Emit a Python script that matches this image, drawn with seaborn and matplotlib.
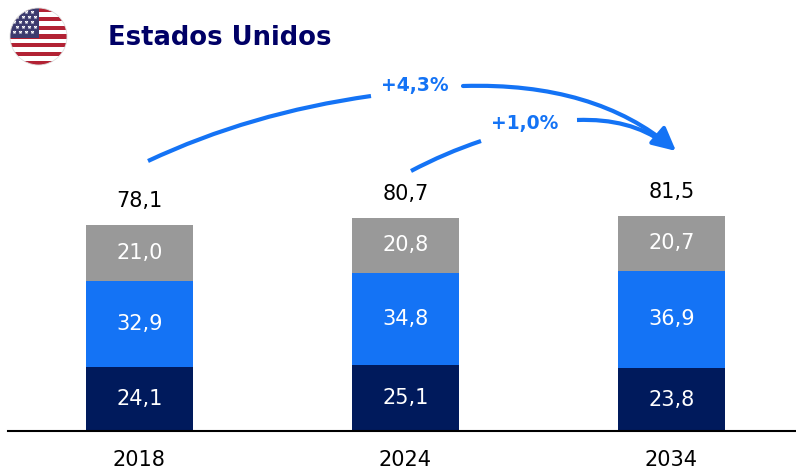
import matplotlib
matplotlib.use("Agg")
import matplotlib.pyplot as plt
from matplotlib.patches import Circle, Rectangle, FancyArrowPatch, PathPatch
from matplotlib.path import Path
import seaborn as sns

#Data
years = ['2018', '2024', '2034']
bottom_vals = [24.1, 25.1, 23.8]
middle_vals = [32.9, 34.8, 36.9]
top_vals = [21.0, 20.8, 20.7]
totals = [78.1, 80.7, 81.5]
navy = '#001A5C'
blue = '#1473F5'
grey = '#999999'

sns.set_theme(style='white')
plt.rcParams['font.family'] = ['DejaVu Sans']

fig = plt.figure(figsize=(7.96, 4.70), dpi=100)
ax = fig.add_axes([8 / 796, (470 - 431) / 470, 788 / 796, 431 / 470])

#Stack the three segments
base = [0, 0, 0]
for vals, col in [(bottom_vals, navy), (middle_vals, blue), (top_vals, grey)]:
    sns.barplot(x=years, y=vals, bottom=base, color=col, saturation=1, width=0.402, ax=ax, errorbar=None, linewidth=0)
    for i, v in enumerate(vals):
        ax.text(i, base[i] + v / 2, f'{v:.1f}'.replace('.', ','), color='white', fontsize=15, ha='center', va='center')
    base = [b + v for b, v in zip(base, vals)]

for i, t in enumerate(totals):
    ax.annotate(f'{t:.1f}'.replace('.', ','), (i, t), xytext=(0, 10), textcoords='offset points',
                color='black', fontsize=15, ha='center', va='bottom')

ax.set_xlim(-0.494, 2.468)
ax.set_ylim(0, 163.3)
ax.set_yticks([])
ax.set_ylabel('')
sns.despine(ax=ax, left=True)
ax.spines['bottom'].set_color('black')
ax.spines['bottom'].set_linewidth(1.5)
ax.tick_params(axis='x', length=0, pad=13.5, labelsize=15, labelcolor='black')

#Overlay in pixel coordinates for the title, flag and arrows
ov = fig.add_axes([0, 0, 1, 1])
ov.set_xlim(0, 796)
ov.set_ylim(470, 0)
ov.axis('off')
ov.patch.set_alpha(0)

ov.text(108, 38, 'Estados Unidos', color='#000066', fontsize=18.6, fontweight='bold', ha='left', va='center')

#Flag
clip = Circle((38.5, 36.5), 28.5, transform=ov.transData, facecolor='none', edgecolor='none')
ov.add_patch(clip)
for s in range(13):
    r = Rectangle((10, 8 + s * 57 / 13), 57, 57 / 13, facecolor='#B22234' if s % 2 == 0 else 'white', edgecolor='none')
    ov.add_patch(r)
    r.set_clip_path(clip)
canton = Rectangle((10, 8), 28.5, 30, facecolor='#3C3B6E', edgecolor='none')
ov.add_patch(canton)
canton.set_clip_path(clip)
star_x = [14, 20, 26, 32]
star_y = [12, 17, 22, 27, 32]
for n, sy in enumerate(star_y):
    shift = 3 if n % 2 else 0
    pts = ov.scatter([x + shift for x in star_x], [sy] * 4, s=9, marker='*', color='white', linewidths=0)
    pts.set_clip_path(clip)
ring = Circle((38.5, 36.5), 28.5, facecolor='none', edgecolor='#DDDDDD', linewidth=0.6)
ov.add_patch(ring)

#Growth arrows
def curve(p0, p1, p2):
    return Path([p0, p1, p2], [Path.MOVETO, Path.CURVE3, Path.CURVE3])

ov.add_patch(PathPatch(curve((148, 161), (250, 113), (371, 96)), facecolor='none', edgecolor=blue, linewidth=3))
ov.add_patch(PathPatch(curve((411, 171), (445, 153), (481, 141)), facecolor='none', edgecolor=blue, linewidth=3))
ov.add_patch(FancyArrowPatch(path=curve((463, 86), (595, 82), (676, 151)), arrowstyle='-|>,head_length=0.7,head_width=0.35',
                             mutation_scale=20, color=blue, linewidth=3, shrinkA=0, shrinkB=0))
ov.add_patch(PathPatch(curve((577, 120), (630, 118), (664, 143)), facecolor='none', edgecolor=blue, linewidth=3))
ov.text(415, 86, '+4,3%', color=blue, fontsize=13.5, fontweight='bold', ha='center', va='center')
ov.text(525, 124, '+1,0%', color=blue, fontsize=13.5, fontweight='bold', ha='center', va='center')

fig.savefig('out.png', dpi=100)
